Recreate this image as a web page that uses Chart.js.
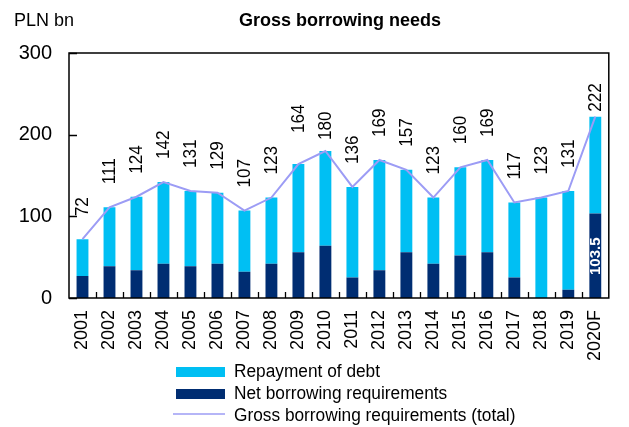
<!DOCTYPE html>
<html>
<head>
<meta charset="utf-8">
<script src="https://cdn.jsdelivr.net/npm/chart.js@4/dist/chart.umd.min.js"></script>
<style>
  html, body { margin: 0; padding: 0; background: #fff; }
  #wrap { position: relative; width: 629px; height: 427px; }
</style>
</head>
<body>
<div id="wrap"><canvas id="barchart" width="629" height="427"></canvas></div>
<script>
var years = ["2001", "2002", "2003", "2004", "2005", "2006", "2007", "2008", "2009", "2010",
             "2011", "2012", "2013", "2014", "2015", "2016", "2017", "2018", "2019", "2020F"];
var grossTotal = [72, 111, 124, 142, 131, 129, 107, 123, 164, 180,
                  136, 169, 157, 123, 160, 169, 117, 123, 131, 222];
var netBorrowing = [27, 39, 34, 42, 39, 42, 32, 42, 56, 64,
                    25, 34, 56, 42, 52, 56, 25, 0, 10, 103.5];
var repayment = grossTotal.map(function (v, i) { return v - netBorrowing[i]; });
var yTicks = [0, 100, 200, 300];

var FONT = "'Liberation Sans Narrow', 'Arial Narrow', 'Liberation Sans', Arial, sans-serif";
var CYAN = "#00bff3";
var NAVY = "#002d72";
var LINE = "#9c9cf5";

// labels sit above the line point; a few were nudged by hand
var labelGap = 23;
var labelGapOverride = { 8: 31, 9: 11, 19: 5 };

var extras = {
  id: "extras",
  afterDraw: function (chart) {
    var c = chart.ctx;
    var a = chart.chartArea;
    var xs = chart.scales.x, ys = chart.scales.y;
    c.save();

    // heading + unit
    c.fillStyle = "#000";
    c.textBaseline = "middle";
    c.font = "bold 18px " + FONT;
    c.textAlign = "center";
    c.fillText("Gross borrowing needs", 340, 21);
    c.font = "18px " + FONT;
    c.textAlign = "left";
    c.fillText("PLN bn", 14, 21);

    // frame
    c.strokeStyle = "#000";
    c.lineWidth = 1.5;
    c.strokeRect(a.left, a.top, a.right - a.left, a.bottom - a.top);

    // inward tick marks
    c.lineWidth = 1.3;
    c.beginPath();
    yTicks.forEach(function (t) {
      var y = Math.round(ys.getPixelForValue(t)) + 0.5;
      c.moveTo(a.left, y);
      c.lineTo(a.left + 8, y);
    });
    for (var i = 1; i < years.length; i++) {
      var x = Math.round((xs.getPixelForValue(i - 1) + xs.getPixelForValue(i)) / 2) + 0.5;
      c.moveTo(x, a.bottom);
      c.lineTo(x, a.bottom - 6);
    }
    c.stroke();

    // value labels, rotated
    c.font = "18px " + FONT;
    c.fillStyle = "#000";
    c.textAlign = "left";
    c.textBaseline = "middle";
    grossTotal.forEach(function (v, i) {
      var gap = labelGapOverride[i] !== undefined ? labelGapOverride[i] : labelGap;
      var x = xs.getPixelForValue(i) + 1;
      var y = ys.getPixelForValue(v) - gap;
      c.save();
      c.translate(x, y);
      c.rotate(-Math.PI / 2);
      c.scale(0.95, 1);
      c.fillText(String(v), 0, 0);
      c.restore();
    });

    // net borrowing value on the forecast bar
    var last = years.length - 1;
    c.save();
    c.font = "bold 15px " + FONT;
    c.fillStyle = "#fff";
    c.translate(xs.getPixelForValue(last) + 1, a.bottom - 23);
    c.rotate(-Math.PI / 2);
    c.fillText(String(netBorrowing[last]), 0, 0);
    c.restore();

    // legend
    var items = [
      { label: "Repayment of debt", color: CYAN, box: true },
      { label: "Net borrowing requirements", color: NAVY, box: true },
      { label: "Gross borrowing requirements (total)", color: LINE, box: false }
    ];
    c.font = "18px " + FONT;
    c.textAlign = "left";
    c.textBaseline = "middle";
    items.forEach(function (it, k) {
      var y = 372 + k * 22;
      if (it.box) {
        c.fillStyle = it.color;
        c.fillRect(176, y - 5, 49, 10);
      } else {
        c.strokeStyle = it.color;
        c.lineWidth = 1.5;
        c.beginPath();
        c.moveTo(173, y - 2);
        c.lineTo(225, y - 2);
        c.stroke();
      }
      c.fillStyle = "#000";
      c.save();
      c.translate(234, y);
      c.scale(0.96, 1);
      c.fillText(it.label, 0, 0);
      c.restore();
    });

    c.restore();
  }
};

var ctx = document.getElementById("barchart").getContext("2d");
var myChart = new Chart(ctx, {
  type: "bar",
  data: {
    labels: years,
    datasets: [
      {
        label: "Net borrowing requirements",
        data: netBorrowing,
        backgroundColor: NAVY,
        stack: "s",
        order: 2,
        barPercentage: 0.44,
        categoryPercentage: 1
      },
      {
        label: "Repayment of debt",
        data: repayment,
        backgroundColor: CYAN,
        stack: "s",
        order: 2,
        barPercentage: 0.44,
        categoryPercentage: 1
      },
      {
        type: "line",
        label: "Gross borrowing requirements (total)",
        data: grossTotal,
        borderColor: LINE,
        borderWidth: 2,
        pointRadius: 0,
        tension: 0,
        fill: false,
        order: 0
      }
    ]
  },
  options: {
    responsive: false,
    animation: false,
    devicePixelRatio: 1,
    layout: { padding: { left: 0, right: 4, top: 53, bottom: 0 } },
    plugins: {
      legend: { display: false },
      title: { display: false },
      tooltip: { enabled: false }
    },
    scales: {
      x: {
        stacked: true,
        grid: { display: false, drawTicks: false },
        border: { display: false },
        ticks: {
          color: "#000",
          font: { family: FONT, size: 18 },
          minRotation: 90,
          maxRotation: 90,
          autoSkip: false,
          padding: 12
        },
        afterFit: function (scale) { scale.height = 129; }
      },
      y: {
        stacked: true,
        min: 0,
        max: 300,
        grid: { display: false, drawTicks: false },
        border: { display: false },
        afterBuildTicks: function (scale) {
          scale.ticks = yTicks.map(function (v) { return { value: v }; });
        },
        ticks: {
          color: "#000",
          font: { family: FONT, size: 20 },
          padding: 17
        },
        afterFit: function (scale) { scale.width = 69; }
      }
    }
  },
  plugins: [extras]
});
</script>
</body>
</html>
